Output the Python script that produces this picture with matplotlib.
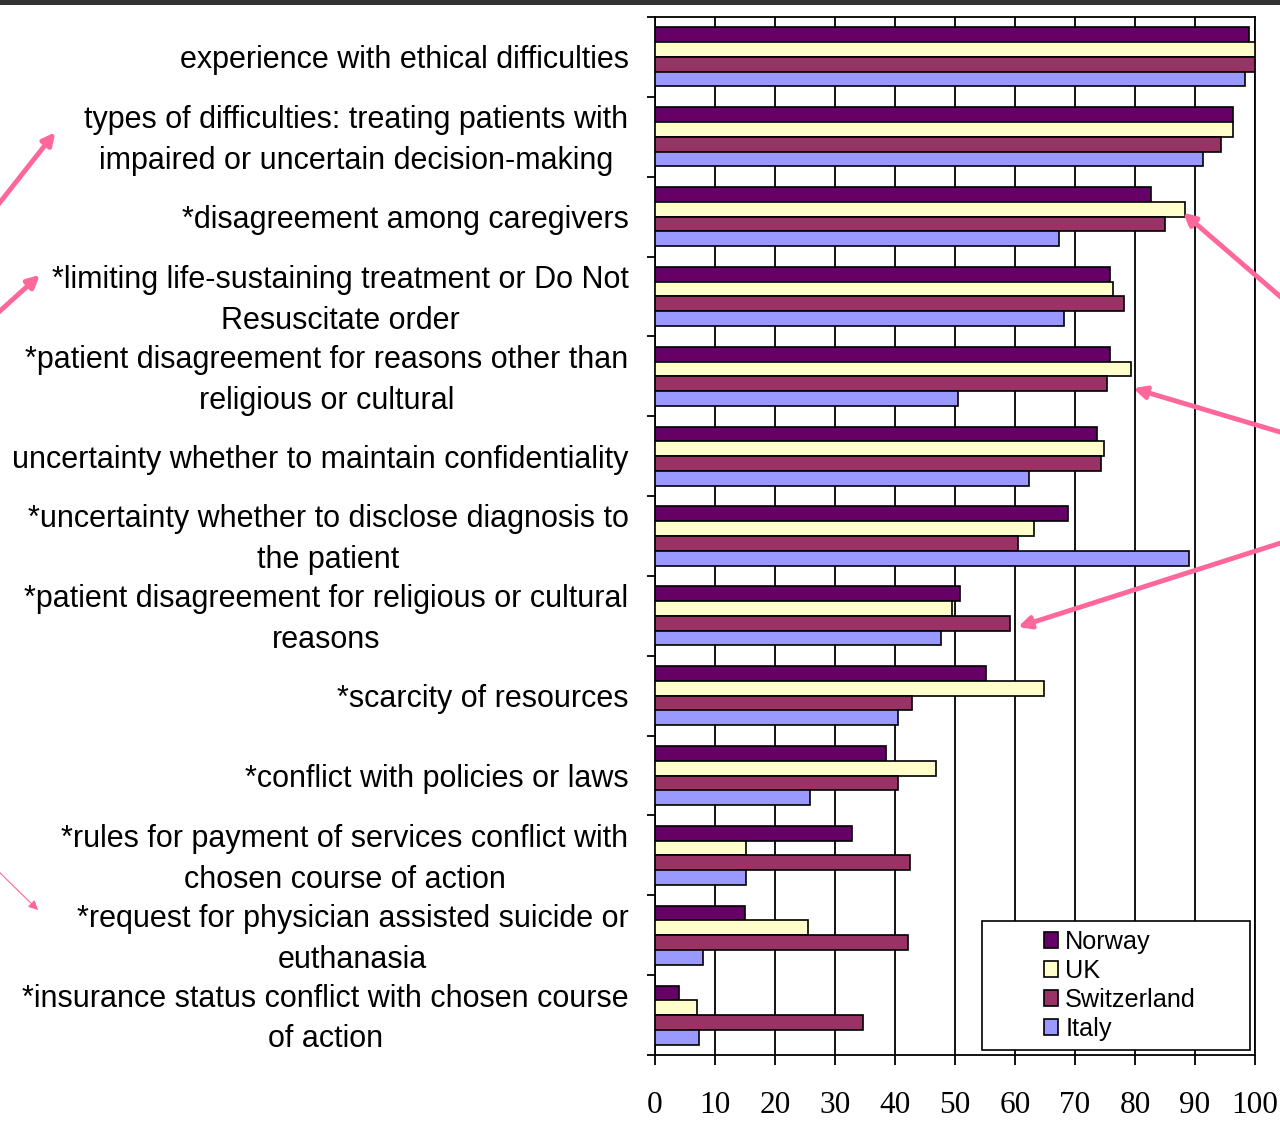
import matplotlib
matplotlib.use('Agg')
import matplotlib.pyplot as plt
import matplotlib.transforms as mtransforms
import numpy as np
from matplotlib.patches import Patch, Rectangle, FancyArrowPatch

plt.rcParams['font.family'] = 'Liberation Sans'

categories = [
    "experience with ethical difficulties",
    "types of difficulties: treating patients with\nimpaired or uncertain decision-making",
    "*disagreement among caregivers",
    "*limiting life-sustaining treatment or Do Not\nResuscitate order",
    "*patient disagreement for reasons other than\nreligious or cultural",
    "uncertainty whether to maintain confidentiality",
    "*uncertainty whether to disclose diagnosis to\nthe patient",
    "*patient disagreement for religious or cultural\nreasons",
    "*scarcity of resources",
    "*conflict with policies or laws",
    "*rules for payment of services conflict with\nchosen course of action",
    "*request for physician assisted suicide or\neuthanasia",
    "*insurance status conflict with chosen course\nof action",
]

norway = [99.0, 96.3, 82.7, 75.8, 75.8, 73.7, 68.8, 50.8, 55.2, 38.5, 32.9, 15.0, 4.0]
uk = [100.0, 96.4, 88.4, 76.3, 79.4, 74.8, 63.1, 49.5, 64.8, 46.9, 15.2, 25.5, 7.0]
switzerland = [100.0, 94.4, 85.0, 78.1, 75.4, 74.4, 60.5, 59.2, 42.9, 40.5, 42.5, 42.2, 34.6]
italy = [98.4, 91.4, 67.4, 68.1, 50.5, 62.4, 89.0, 47.6, 40.5, 25.9, 15.2, 8.0, 7.3]

countries = ['Norway', 'UK', 'Switzerland', 'Italy']
colors = ['#660066', '#FFFFCC', '#993366', '#9999FF']
series = [norway, uk, switzerland, italy]

fig = plt.figure(figsize=(12.8, 11.42), dpi=100)
ax = fig.add_axes([655/1280, 1 - 1055/1142, 600/1280, 1038/1142])

y = np.arange(len(categories))
h = 0.185
for k, (vals, c) in enumerate(zip(series, colors)):
    ax.barh(y + (k - 1.5) * h, vals, height=h, color=c, edgecolor='black',
            linewidth=1.2, zorder=3)

ax.set_xlim(0, 100)
ax.set_ylim(len(categories) - 0.5, -0.5)
ax.set_xticks(np.arange(0, 101, 10))
ax.xaxis.grid(True, color='black', linewidth=1.3, zorder=0)
ax.set_axisbelow(True)
for lbl in ax.get_xticklabels():
    lbl.set_fontfamily('Liberation Serif')
ax.tick_params(axis='x', length=7, width=1.3, pad=19, labelsize=22.5)

ax.set_yticks(y)
ax.set_yticklabels(categories, fontsize=22.0, multialignment='center', linespacing=1.47)
ax.set_yticks(np.arange(len(categories) + 1) - 0.5, minor=True)
ax.tick_params(axis='y', which='major', length=0, pad=19)
ax.tick_params(axis='y', which='minor', length=6, width=1.3)

# two-line labels sit a little higher
lift = mtransforms.ScaledTranslation(0, 5/100, fig.dpi_scale_trans)
for lbl in ax.get_yticklabels():
    if '\n' in lbl.get_text():
        lbl.set_transform(lbl.get_transform() + lift)

for s in ax.spines.values():
    s.set_linewidth(1.3)

# legend box drawn over the gridlines
ax.add_patch(Rectangle((0.545, 0.0048), 0.447, 0.124, transform=ax.transAxes,
                       facecolor='white', edgecolor='black', linewidth=1.2, zorder=4))
handles = [Patch(facecolor=c, edgecolor='black', linewidth=1.2) for c in colors]
leg = ax.legend(handles, countries, loc='center', bbox_to_anchor=(0.775, 0.067),
                frameon=False, fontsize=18.2, handlelength=0.55, handleheight=0.55,
                handletextpad=0.3, labelspacing=0.2, borderpad=0)
leg.set_zorder(5)

# pink call-out arrows
pink = '#FF6699'
def fxy(px, py):
    return (px / 1280, 1 - py / 1142)

fig_arrows = [((-10, 215), (57, 130), 3.5), ((-10, 320), (42, 273), 3.5),
              ((-5, 868), (40, 912), 0.8)]
for tail, tip, lw in fig_arrows:
    fig.add_artist(FancyArrowPatch(
        fxy(*tail), fxy(*tip), transform=fig.transFigure, arrowstyle='-|>',
        mutation_scale=14 if lw < 1 else 18, color=pink, linewidth=lw))

for tip, tail in [((88.0, 1.95), (1290, 305)), ((79.7, 4.15), (1290, 435)),
                  ((60.5, 7.14), (1290, 540))]:
    ax.annotate('', xy=tip, xycoords='data', xytext=fxy(*tail),
                textcoords='figure fraction', annotation_clip=False,
                arrowprops=dict(arrowstyle='-|>', color=pink, lw=3.5,
                                mutation_scale=18, shrinkA=0, shrinkB=0),
                zorder=6)

fig.patches.append(Rectangle((0, 1 - 5/1142), 1, 5/1142, transform=fig.transFigure,
                             facecolor='#333333', edgecolor='none'))

fig.savefig('out.png', dpi=100)
